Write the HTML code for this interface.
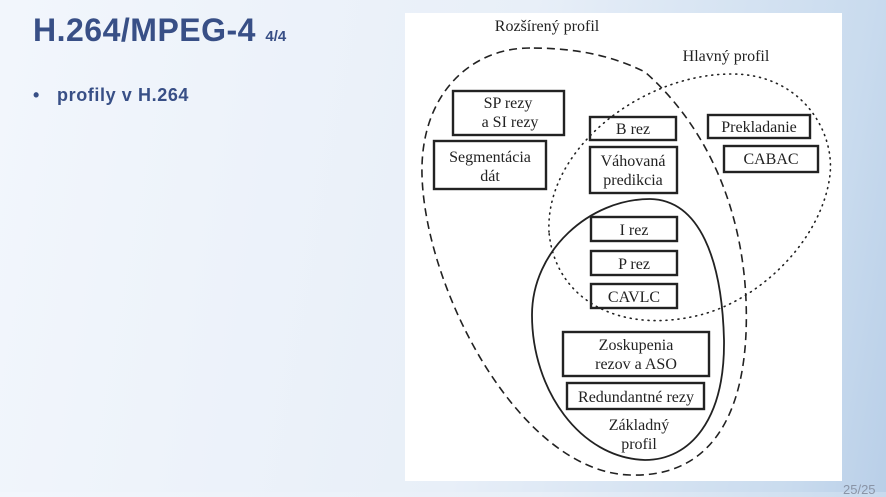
<!DOCTYPE html>
<html><head><meta charset="utf-8"><style>
html,body{margin:0;padding:0}
body{width:886px;height:492px;overflow:hidden;position:relative;background:linear-gradient(100deg,#f2f6fc 0%,#e8eff8 55%,#c9dbee 90%,#b9cfe8 100%);font-family:"Liberation Sans",sans-serif}
.t{position:absolute;left:33px;top:12px;color:#384f86;font-weight:bold;font-size:32px;letter-spacing:0.5px}
.t small{font-size:15px;letter-spacing:0}
.b{position:absolute;left:33px;top:85px;color:#384f86;font-weight:bold;font-size:18px;letter-spacing:0.6px}
.b span{display:inline-block;width:24px}
.pn{position:absolute;left:843px;top:482px;color:#8a94a6;font-size:13px}
svg{position:absolute;left:0;top:0}
</style></head><body>
<div class="t">H.264/MPEG-4 <small>4/4</small></div>
<div class="b"><span>•</span>profily v H.264</div>
<div class="pn">25/25</div>
<svg width="886" height="492" font-family="Liberation Serif,serif" font-size="16" text-anchor="middle">
<rect x="405" y="13" width="437" height="468" fill="#fff"/>
<g fill="none" stroke="#222">
<path d="M530,48 C470,48 420,95 422,175 C425,290 520,472 630,475 C720,478 750,400 746,300 C742,205 705,125 645,72 C605,52 565,48 530,48 Z" stroke-width="1.6" stroke-dasharray="8,5"/>
<path d="M549,232 C545,150 640,75 730,74 C800,73 835,130 830,175 C822,240 760,300 700,315 C620,335 555,300 549,232 Z" stroke-width="1.6" stroke-dasharray="1,5" stroke-linecap="round"/>
<path d="M532,315 C532,250 590,199 650,199 C700,200 722,260 724,340 C725,420 690,460 645,460 C580,458 532,390 532,315 Z" stroke-width="1.8"/>
<g stroke-width="2.4">
<rect x="453" y="91" width="111" height="44"/>
<rect x="434" y="141" width="112" height="48"/>
<rect x="590" y="117" width="86" height="23"/>
<rect x="590" y="147" width="87" height="46"/>
<rect x="708" y="115" width="102" height="23"/>
<rect x="724" y="146" width="94" height="26"/>
<rect x="591" y="217" width="86" height="24"/>
<rect x="591" y="251" width="86" height="24"/>
<rect x="591" y="284" width="86" height="24"/>
<rect x="563" y="332" width="146" height="44"/>
<rect x="567" y="383" width="137" height="26"/>
</g></g>
<g fill="#222">
<text x="547" y="31">Rozšírený profil</text>
<text x="726" y="61">Hlavný profil</text>
<text x="508" y="108">SP rezy</text><text x="510" y="127">a SI rezy</text>
<text x="490" y="162">Segmentácia</text><text x="490" y="181">dát</text>
<text x="633" y="134">B rez</text>
<text x="633" y="166">Váhovaná</text><text x="633" y="185">predikcia</text>
<text x="759" y="132">Prekladanie</text>
<text x="771" y="164">CABAC</text>
<text x="634" y="235">I rez</text>
<text x="634" y="269">P rez</text>
<text x="634" y="302">CAVLC</text>
<text x="636" y="350">Zoskupenia</text><text x="636" y="369">rezov a ASO</text>
<text x="636" y="402">Redundantné rezy</text>
<text x="639" y="430">Základný</text><text x="639" y="449">profil</text>
</g>
</svg>
</body></html>
